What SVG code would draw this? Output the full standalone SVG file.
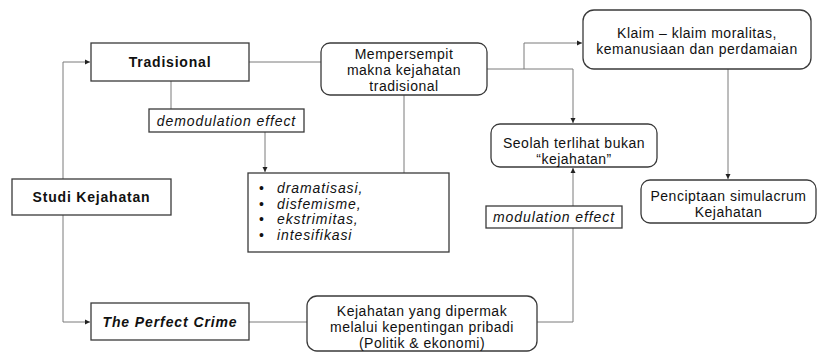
<svg xmlns="http://www.w3.org/2000/svg" width="820" height="352" viewBox="0 0 820 352">
<defs>
<marker id="ah" markerWidth="6" markerHeight="6" refX="5" refY="3" orient="auto" markerUnits="userSpaceOnUse">
<path d="M0,0.5 L5,3 L0,5.5 Z" fill="#222"/>
</marker>
<style>
.box{fill:#fff;stroke:#3a3a3a;stroke-width:1.3}
.ln{fill:none;stroke:#7a7a7a;stroke-width:1}
text{font-family:"Liberation Sans",Arial,sans-serif;font-size:14px;letter-spacing:0.5px;fill:#111;text-anchor:middle;dominant-baseline:central}
.b{font-weight:bold;letter-spacing:0.8px}
.i{font-style:italic;letter-spacing:0.9px}
.l{text-anchor:start}
.dot{letter-spacing:0}
</style>
</defs>
<rect width="820" height="352" fill="#fff"/>
<g id="connectors">
<path class="ln" d="M63,179 V62 H90" marker-end="url(#ah)"/>
<path class="ln" d="M63,215 V322 H90" marker-end="url(#ah)"/>
<path class="ln" d="M249,62 H321"/>
<path class="ln" d="M171,81 V109"/>
<path class="ln" d="M265,132 V172" marker-end="url(#ah)"/>
<path class="ln" d="M404,95 V173"/>
<path class="ln" d="M487,69 H573 V123" marker-end="url(#ah)"/>
<path class="ln" d="M524,69 V43 H582" marker-end="url(#ah)"/>
<path class="ln" d="M573,206 V168" marker-end="url(#ah)"/>
<path class="ln" d="M537,322 H573 V228"/>
<path class="ln" d="M249,322 H307"/>
<path class="ln" d="M728,69 V179" marker-end="url(#ah)"/>
</g>
<g id="tradisional">
<rect class="box" x="91" y="43" width="158" height="38"/>
<text class="b" x="170" y="62">Tradisional</text>
</g>
<g id="mempersempit">
<rect class="box" x="321" y="43" width="166" height="52" rx="9"/>
<text x="404" y="54">Mempersempit</text>
<text x="404" y="70">makna kejahatan</text>
<text x="404" y="86">tradisional</text>
</g>
<g id="klaim">
<rect class="box" x="583" y="10" width="228" height="59" rx="11"/>
<text x="697" y="32.5">Klaim – klaim moralitas,</text>
<text x="697" y="48.5">kemanusiaan dan perdamaian</text>
</g>
<g id="seolah">
<rect class="box" x="491" y="124" width="166" height="43" rx="9"/>
<text x="574" y="142.5">Seolah terlihat bukan</text>
<text x="574" y="158.5">“kejahatan”</text>
</g>
<g id="demodulation">
<rect class="box" x="149" y="109" width="155" height="23"/>
<text class="i" x="226.5" y="120.5">demodulation effect</text>
</g>
<g id="bullets">
<rect class="box" x="248" y="173" width="201" height="79"/>
<text class="l dot" x="259" y="188">•</text>
<text class="l dot" x="259" y="203.7">•</text>
<text class="l dot" x="259" y="219.4">•</text>
<text class="l dot" x="259" y="235.1">•</text>
<text class="l i" x="277" y="188">dramatisasi,</text>
<text class="l i" x="277" y="203.7">disfemisme,</text>
<text class="l i" x="277" y="219.4">ekstrimitas,</text>
<text class="l i" x="277" y="235.1">intesifikasi</text>
</g>
<g id="studi">
<rect class="box" x="12" y="179" width="159" height="36"/>
<text class="b" x="91.5" y="197">Studi Kejahatan</text>
</g>
<g id="modulation">
<rect class="box" x="486" y="206" width="136" height="22"/>
<text class="i" x="554" y="217">modulation effect</text>
</g>
<g id="penciptaan">
<rect class="box" x="641" y="180" width="175" height="43" rx="9"/>
<text x="728.5" y="195.5">Penciptaan simulacrum</text>
<text x="728.5" y="211.5">Kejahatan</text>
</g>
<g id="perfect">
<rect class="box" x="91" y="303" width="158" height="37"/>
<text class="b i" x="170" y="321.5" style="letter-spacing:0.9px">The Perfect Crime</text>
</g>
<g id="kejahatan">
<rect class="box" x="307" y="296" width="230" height="55" rx="10"/>
<text x="422" y="311">Kejahatan yang dipermak</text>
<text x="422" y="327">melalui kepentingan pribadi</text>
<text x="422" y="342.5">(Politik &amp; ekonomi)</text>
</g>
</svg>
